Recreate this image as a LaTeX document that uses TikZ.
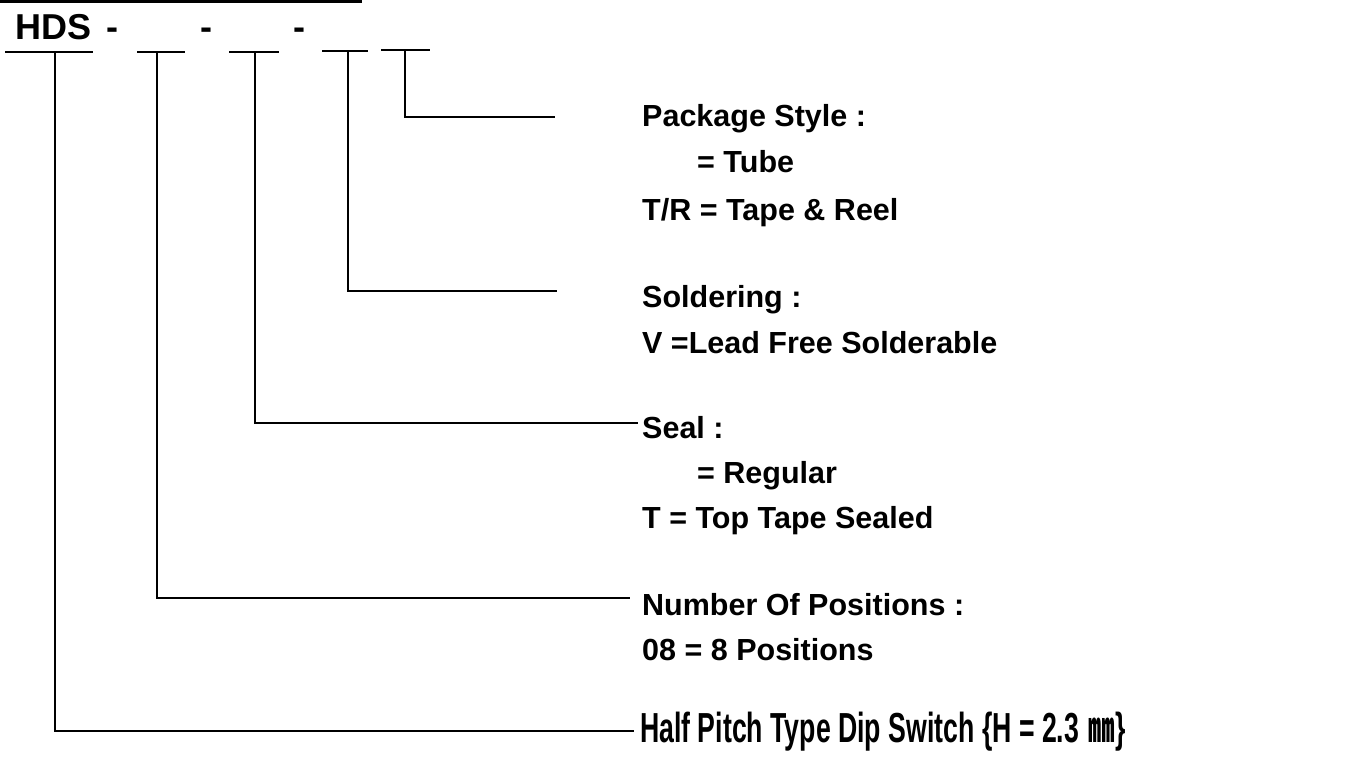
\documentclass[tikz,border=0pt]{standalone}
\usepackage{fontspec}
\setmainfont{Liberation Sans}
\newfontfamily\cjk{Noto Sans CJK SC}
\usepackage{graphicx}
\begin{document}
\begin{tikzpicture}[x=1pt,y=-1pt,
  lbl/.style={anchor=base west,inner sep=0pt,font=\fontsize{30.5}{36}\selectfont\bfseries},
  hdr/.style={anchor=base west,inner sep=0pt,font=\fontsize{36}{40}\selectfont\bfseries},
  conn/.style={line width=1.6pt,line join=miter},
  uline/.style={line width=1.8pt}]
\useasboundingbox (0,0) rectangle (1345,757);
% top bar
\draw[line width=2.6pt] (0,1.3) -- (362,1.3);
% header text
\node[hdr] (hds) at (15,40) {HDS};
\node[hdr] (d1) at (106,40) {-};
\node[hdr] (d2) at (200,40) {-};
\node[hdr] (d3) at (293,40) {-};
% underlines
\draw[uline] (5,52) -- (93,52);
\draw[uline] (137,52) -- (185,52);
\draw[uline] (229,52) -- (279,52);
\draw[uline] (322,51) -- (368,51);
\draw[uline] (381,50) -- (430,50);
\coordinate (t1) at (55,52);
\coordinate (t2) at (157,52);
\coordinate (t3) at (255,52);
\coordinate (t4) at (348,51);
\coordinate (t5) at (405,50);
\coordinate (e1) at (634,731);
\coordinate (e2) at (630,598);
\coordinate (e3) at (638,423);
\coordinate (e4) at (557,291);
\coordinate (e5) at (555,117);
% labels
\node[lbl] (pkg) at (642,127) {Package Style :};
\node[lbl] (pkgb) at (697,173) {= Tube};
\node[lbl] (pkgc) at (642,220) {T/R = Tape \& Reel};
\node[lbl] (sol) at (642,307) {Soldering :};
\node[lbl] (solb) at (642,353) {V =Lead Free Solderable};
\node[lbl] (seal) at (642,438) {Seal :};
\node[lbl] (sealb) at (697,483) {= Regular};
\node[lbl] (sealc) at (642,528) {T = Top Tape Sealed};
\node[lbl] (num) at (642,615) {Number Of Positions :};
\node[lbl] (numb) at (642,660) {08 = 8 Positions};
\node[anchor=base west,inner sep=0pt] (half) at (640,742)
  {\scalebox{0.635}[1]{\fontsize{42}{46}\selectfont\bfseries Half Pitch Type Dip Switch \{H = 2.3 \hspace{3pt}{\cjk ㎜}\}}};
% connectors
\draw[conn] (t5) |- (e5);
\draw[conn] (t4) |- (e4);
\draw[conn] (t3) |- (e3);
\draw[conn] (t2) |- (e2);
\draw[conn] (t1) |- (e1);
\end{tikzpicture}
\end{document}
